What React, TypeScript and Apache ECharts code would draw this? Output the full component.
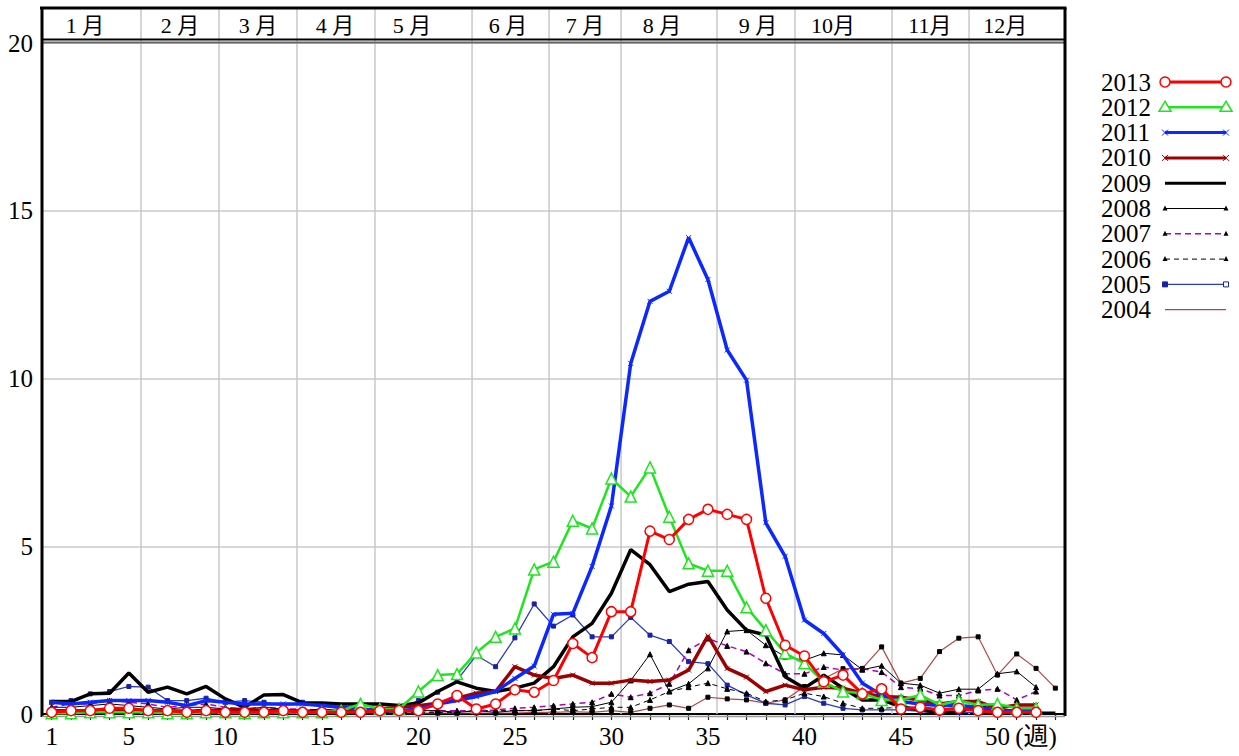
import React, { useEffect, useRef } from "react";
import * as echarts from "echarts";

// ---- data ----
const weekLabels = ["1","2","3","4","5","6","7","8","9","10","11","12","13","14","15","16","17","18","19","20","21","22","23","24","25","26","27","28","29","30","31","32","33","34","35","36","37","38","39","40","41","42","43","44","45","46","47","48","49","50","51","52","53"];
const shownWeekLabels: Record<string, string> = { "1": "1", "5": "5", "10": "10", "15": "15", "20": "20", "25": "25", "30": "30", "35": "35", "40": "40", "45": "45", "50": "50", "52": "(週)" };
const yTicks = [0, 5, 10, 15, 20];

const monthLabels = ["1 月", "2 月", "3 月", "4 月", "5 月", "6 月", "7 月", "8 月", "9 月", "10月", "11月", "12月"];
const monthLabelWeeks = [2.73, 7.65, 11.69, 15.68, 19.67, 24.64, 28.63, 32.62, 37.59, 41.48, 46.5, 50.4];
const monthBoundaryWeeks = [5.63, 9.67, 13.71, 17.75, 22.78, 26.77, 30.5, 35.47, 39.51, 44.54, 48.53];

const seriesNames = ["2013", "2012", "2011", "2010", "2009", "2008", "2007", "2006", "2005", "2004"];

const v2013 = [0.05,0.1,0.1,0.17,0.17,0.1,0.1,0.05,0.1,0.05, 0.05,0.05,0.1,0.05,0.05,0.05,0.05,0.1,0.1,0.1, 0.3,0.55,0.15,0.3,0.72,0.65,1.0,2.1,1.68,3.05, 3.05,5.45,5.2,5.8,6.1,5.95,5.8,3.45,2.05,1.73, 0.96,1.16,0.6,0.75,0.15,0.2,0.12,0.17,0.1,0.05, 0.05,0.05];
const v2012 = [0.02,0.02,0.05,0.05,0.05,0.05,0.02,0.02,0.05,0.05, 0.02,0.05,0.05,0.05,0.05,0.1,0.3,0.15,0.15,0.67, 1.16,1.19,1.83,2.3,2.55,4.31,4.54,5.76,5.53,7.02, 6.48,7.35,5.88,4.49,4.27,4.27,3.18,2.5,1.81,1.51, 0.96,0.67,0.62,0.42,0.42,0.57,0.27,0.4,0.27,0.3, 0.17,0.17];
const v2011 = [0.35,0.3,0.35,0.4,0.4,0.4,0.35,0.25,0.4,0.35, 0.3,0.3,0.3,0.3,0.25,0.2,0.15,0.1,0.1,0.15, 0.3,0.4,0.52,0.67,1.06,1.43,2.97,3.0,4.4,6.2, 10.45,12.3,12.6,14.2,12.95,10.85,9.95,5.7,4.7,2.8, 2.4,1.76,0.92,0.57,0.37,0.3,0.25,0.25,0.2,0.1, 0.1,0.1];
const v2010 = [0.1,0.1,0.1,0.12,0.12,0.1,0.1,0.08,0.1,0.12, 0.15,0.1,0.1,0.08,0.05,0.05,0.1,0.15,0.2,0.25, 0.32,0.47,0.62,0.67,1.41,1.16,1.06,1.16,0.92,0.92, 1.01,0.97,1.01,1.31,2.33,1.36,1.1,0.67,0.86,0.72, 0.8,0.77,0.62,0.52,0.5,0.42,0.3,0.37,0.37,0.17, 0.27,0.27];
const v2009 = [0.37,0.37,0.6,0.62,1.22,0.65,0.8,0.6,0.82,0.45, 0.2,0.57,0.58,0.33,0.33,0.3,0.3,0.3,0.25,0.33, 0.67,0.96,0.77,0.67,0.77,0.92,1.41,2.3,2.7,3.6, 4.9,4.45,3.65,3.87,3.95,3.1,2.5,2.35,1.11,0.77, 1.16,0.77,0.42,0.42,0.22,0.12,0.05,0.05,0.27,0.05, 0.05,0.03,0.02];
const v2008 = [0.2,0.2,0.25,0.3,0.25,0.2,0.15,0.2,0.2,0.15, 0.15,0.2,0.15,0.1,0.15,0.1,0.1,0.15,0.1,0.1, 0.1,0.05,0.1,0.05,0.1,0.1,0.15,0.2,0.22,0.35, 1.0,1.78,0.68,0.9,1.36,2.46,2.5,2.05,1.71,1.6, 1.81,1.76,1.32,1.44,0.92,0.86,0.62,0.74,0.74,1.2, 1.27,0.8];
const v2007 = [0.2,0.3,0.3,0.4,0.35,0.3,0.2,0.25,0.3,0.2, 0.15,0.2,0.15,0.15,0.1,0.1,0.15,0.1,0.1,0.1, 0.1,0.1,0.1,0.12,0.17,0.2,0.25,0.3,0.35,0.6, 0.5,0.62,0.9,1.9,2.25,2.03,1.86,1.51,1.2,1.2, 1.4,1.31,1.35,1.25,0.8,0.75,0.55,0.55,0.7,0.75, 0.42,0.67];
const v2006 = [0.1,0.1,0.15,0.15,0.1,0.1,0.1,0.1,0.15,0.1, 0.1,0.1,0.05,0.1,0.05,0.05,0.1,0.05,0.05,0.05, 0.05,0.05,0.1,0.1,0.1,0.1,0.15,0.1,0.15,0.2, 0.2,0.42,0.67,0.8,0.92,0.75,0.62,0.37,0.42,0.62, 0.52,0.32,0.17,0.17,0.2,0.15,0.1,0.15,0.15,0.05, 0.1,0.1];
const v2005 = [0.35,0.4,0.6,0.67,0.82,0.8,0.4,0.4,0.47,0.35, 0.4,0.35,0.25,0.35,0.25,0.15,0.2,0.1,0.15,0.4, 0.65,1.0,1.75,1.41,2.27,3.28,2.62,2.95,2.3,2.3, 2.88,2.35,2.16,1.56,1.5,0.86,0.57,0.32,0.27,0.52, 0.32,0.17,0.12,0.12,0.12,0.08,0.03,0.05,0.05,0.05, 0.1,0.15];
const v2004 = [0.05,0.05,0.05,0.05,0.05,0.05,0.03,0.05,0.05,0.05, 0.05,0.05,0.03,0.03,0.03,0.05,0.05,0.05,0.05,0.03, 0.03,0.03,0.03,0.03,0.03,0.05,0.05,0.07,0.05,0.1, 0.05,0.17,0.27,0.17,0.5,0.45,0.42,0.32,0.42,0.82, 1.05,1.35,1.36,2.0,0.92,1.06,1.86,2.26,2.3,1.16, 1.79,1.36,0.77];

const seriesValues = [v2013, v2012, v2011, v2010, v2009, v2008, v2007, v2006, v2005, v2004];

// ---- styles ----
const XSYM = "path://M0,0L10,10M10,0L0,10";
type Sty = { color: string; width: number; dash?: number[]; symbol: string; size: number; fill: string; stroke: string; lm: string };
const styles: Sty[] = [
  { color: "#ff0000", width: 3, symbol: "circle", size: 10, fill: "#ffffff", stroke: "#ff0000", lm: "circle" },
  { color: "#1ee61e", width: 2.5, symbol: "triangle", size: 11, fill: "#ffffff", stroke: "#1ee61e", lm: "triangle" },
  { color: "#0a28ff", width: 3.5, symbol: XSYM, size: 5, fill: "none", stroke: "#0a28ff", lm: "x" },
  { color: "#9c0000", width: 3.5, symbol: XSYM, size: 5, fill: "none", stroke: "#9c0000", lm: "x" },
  { color: "#000000", width: 3.5, symbol: "none", size: 0, fill: "#000", stroke: "#000", lm: "none" },
  { color: "#000000", width: 1, symbol: "triangle", size: 5, fill: "#000", stroke: "#000", lm: "tri" },
  { color: "#b000c0", width: 1.5, dash: [6, 4], symbol: "triangle", size: 5, fill: "#000", stroke: "#000", lm: "tri" },
  { color: "#000000", width: 1, dash: [5, 4], symbol: "triangle", size: 5, fill: "#000", stroke: "#000", lm: "tri" },
  { color: "#2a3cc0", width: 1.3, symbol: "rect", size: 4, fill: "#1a22a0", stroke: "#1a22a0", lm: "rect" },
  { color: "#b04848", width: 1.2, symbol: "rect", size: 4, fill: "#000", stroke: "#000", lm: "none" },
];

const NUM_FONT = '"Liberation Serif", "DejaVu Serif", serif';
const CJK_FONT = '"Liberation Serif", "Noto Sans CJK JP", serif';

function buildLegend(): any[] {
  const els: any[] = [];
  const x0 = 1101, lx1 = 1165, lx2 = 1226, y0 = 82, dy = 25.3;
  seriesNames.forEach((name, i) => {
    const s = styles[i];
    const y = y0 + i * dy;
    els.push({ type: "text", x: x0, y, style: { text: name, font: `25px ${NUM_FONT}`, fill: "#000", align: "left", verticalAlign: "middle" } });
    els.push({ type: "line", shape: { x1: lx1, y1: y, x2: lx2, y2: y }, style: { stroke: s.color, lineWidth: Math.min(s.width, 3), lineDash: s.dash || null } });
    [lx1, lx2].forEach((cx) => {
      if (s.lm === "circle") els.push({ type: "circle", shape: { cx, cy: y, r: 5 }, style: { fill: "#fff", stroke: s.stroke, lineWidth: 1.5 } });
      else if (s.lm === "triangle") els.push({ type: "polygon", shape: { points: [[cx, y - 6], [cx - 6, y + 4], [cx + 6, y + 4]] }, style: { fill: "#fff", stroke: s.stroke, lineWidth: 1.5 } });
      else if (s.lm === "x") {
        els.push({ type: "line", shape: { x1: cx - 3, y1: y - 3, x2: cx + 3, y2: y + 3 }, style: { stroke: s.stroke, lineWidth: 1 } });
        els.push({ type: "line", shape: { x1: cx - 3, y1: y + 3, x2: cx + 3, y2: y - 3 }, style: { stroke: s.stroke, lineWidth: 1 } });
      } else if (s.lm === "tri") els.push({ type: "polygon", shape: { points: [[cx, y - 3], [cx - 2.5, y + 2], [cx + 2.5, y + 2]] }, style: { fill: "#000" } });
      else if (s.lm === "rect") els.push({ type: "rect", shape: { x: cx - 2.5, y: y - 2.5, width: 5, height: 5 }, style: { fill: cx === lx1 ? s.fill : "#fff", stroke: s.stroke, lineWidth: 1 } });
    });
  });
  return els;
}

export default function App() {
  const ref = useRef<HTMLDivElement>(null);
  useEffect(() => {
    if (!ref.current) return;
    const chart = echarts.init(ref.current, undefined, { renderer: "svg" });

    const frameSeries: any = {
      type: "custom",
      xAxisIndex: 0,
      yAxisIndex: 0,
      z: 1,
      clip: false,
      silent: true,
      data: [[1, 0]],
      renderItem: (params: any, api: any) => {
        const cs = params.coordSys;
        const left = cs.x, top = cs.y, right = cs.x + cs.width, bottom = cs.y + cs.height;
        const headerTop = top - 35;
        const children: any[] = [];
        monthBoundaryWeeks.forEach((b) => {
          const x = api.coord([b, 0])[0];
          children.push({ type: "line", shape: { x1: x, y1: headerTop, x2: x, y2: bottom }, style: { stroke: "#c8c8c8", lineWidth: 1.5 } });
        });
        monthLabels.forEach((t, i) => {
          const x = api.coord([monthLabelWeeks[i], 0])[0];
          children.push({ type: "text", style: { text: t, x, y: headerTop + 17, align: "center", verticalAlign: "middle", font: `22px ${CJK_FONT}`, fill: "#000" } });
        });
        children.push({ type: "line", shape: { x1: left, y1: top - 3.5, x2: right, y2: top - 3.5 }, style: { stroke: "#000", lineWidth: 2 } });
        children.push({ type: "line", shape: { x1: left, y1: top - 0.5, x2: right, y2: top - 0.5 }, style: { stroke: "#666", lineWidth: 2 } });
        children.push({ type: "line", shape: { x1: left - 2, y1: headerTop, x2: right + 1.5, y2: headerTop }, style: { stroke: "#000", lineWidth: 3 } });
        children.push({ type: "line", shape: { x1: left, y1: headerTop, x2: left, y2: bottom + 3 }, style: { stroke: "#000", lineWidth: 3 } });
        children.push({ type: "line", shape: { x1: right, y1: headerTop, x2: right, y2: bottom + 2 }, style: { stroke: "#000", lineWidth: 3 } });
        children.push({ type: "line", shape: { x1: left, y1: bottom + 2.5, x2: right, y2: bottom + 2.5 }, style: { stroke: "#999", lineWidth: 1.5 } });
        return { type: "group", children };
      },
    };

    const lineSeries = seriesNames.map((name, i) => {
      const s = styles[i];
      return {
        type: "line",
        name,
        xAxisIndex: 0,
        yAxisIndex: 0,
        data: seriesValues[i].map((v, k) => [k + 1, v]),
        symbol: s.symbol,
        symbolSize: s.size,
        showSymbol: s.symbol !== "none",
        lineStyle: { color: s.color, width: s.width, type: s.dash ? s.dash : "solid" },
        itemStyle: { color: s.fill, borderColor: s.stroke, borderWidth: s.size > 6 ? 1.5 : 1 },
        z: 10 + (seriesNames.length - i),
        silent: true,
      };
    });

    chart.setOption({
      animation: false,
      backgroundColor: "#ffffff",
      grid: { left: 42, right: 174, top: 43, bottom: 42, containLabel: false },
      xAxis: [
        { type: "value", min: 0.5, max: 53.5, show: false },
        {
          type: "category",
          data: weekLabels,
          position: "bottom",
          boundaryGap: true,
          axisLine: { show: true, lineStyle: { color: "#000", width: 2 } },
          axisTick: { show: true, interval: 0, alignWithLabel: true, length: 6, lineStyle: { color: "#222", width: 1.2 } },
          axisLabel: {
            interval: 0,
            margin: 10,
            fontSize: 25,
            fontFamily: CJK_FONT,
            color: "#000",
            formatter: (v: string) => shownWeekLabels[v] || "",
          },
          splitLine: { show: false },
        },
      ],
      yAxis: {
        type: "value",
        min: yTicks[0],
        max: yTicks[yTicks.length - 1],
        interval: 5,
        axisLine: { show: false },
        axisTick: { show: false },
        axisLabel: { fontSize: 25, fontFamily: NUM_FONT, color: "#000", margin: 9 },
        splitLine: { show: true, lineStyle: { color: "#c8c8c8", width: 1.5 } },
      },
      graphic: buildLegend(),
      series: [frameSeries, ...lineSeries],
    });
    return () => chart.dispose();
  }, []);
  return <div ref={ref} style={{ position: "fixed", left: 0, top: 0, width: 1239, height: 756, background: "#fff" }} />;
}
